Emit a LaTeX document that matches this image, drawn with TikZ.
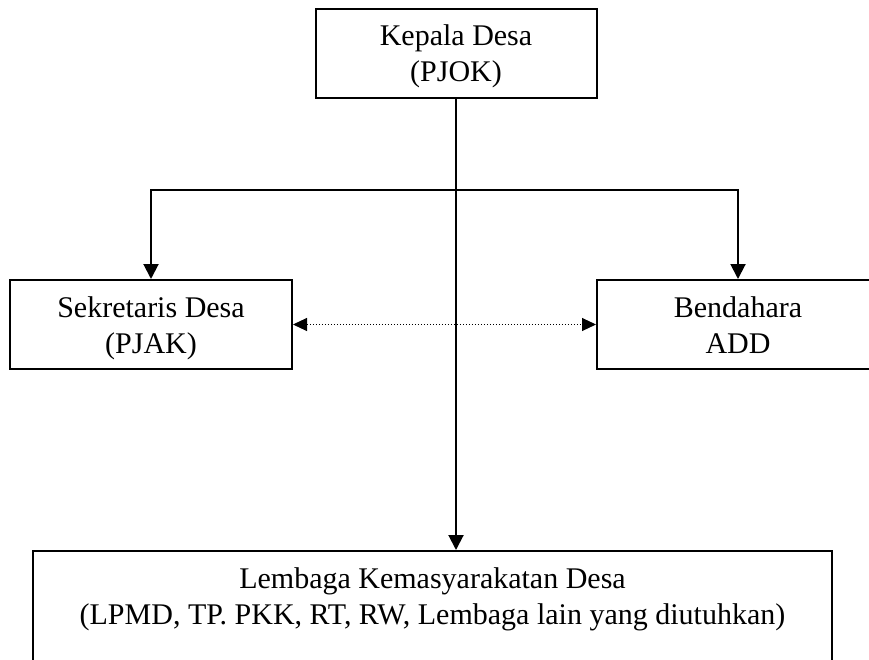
\documentclass[tikz,border=0pt]{standalone}
\usepackage{fontspec}
\setmainfont{Liberation Serif}
\usetikzlibrary{positioning,arrows.meta}
% struts: room above the first line and below the last one
\newcommand{\atas}{\rule{0pt}{37pt}}
\newcommand{\bawah}[1][16pt]{\rule[-#1]{0pt}{#1}}

\begin{document}
\begin{tikzpicture}[x=1pt,y=-1pt,
  box/.style={draw,line width=2pt,align=center,font=\fontsize{30}{36}\selectfont,inner ysep=0pt,anchor=north},
  line/.style={line width=2pt},
  arr/.style={line,-{Triangle[length=15pt,width=15pt]}}]
\clip (0,0) rectangle (869,660);
\node (kepala) [box,minimum width=281pt] at (456,8) {\atas Kepala Desa\\(PJOK)\bawah};
\node (sekretaris) [box,minimum width=282pt] at (151,279) {\atas Sekretaris Desa\\(PJAK)\bawah};
\node (bendahara) [box,minimum width=282pt] at (738,279) {\atas Bendahara\\ADD\bawah};
\node (lembaga) [box,minimum width=799pt] at (432.5,550)
  {\atas Lembaga Kemasyarakatan Desa\\(LPMD, TP. PKK, RT, RW, Lembaga lain yang diutuhkan)\bawah[60pt]};

\coordinate[below=91pt of kepala.south] (cabang);

\draw[arr] (kepala.south) -- (kepala.south |- lembaga.north);
\draw[arr] (cabang) -| (sekretaris.north);
\draw[arr] (cabang) -| (bendahara.north);
\draw[line width=1pt,dotted,{Triangle[length=14pt,width=13pt]}-{Triangle[length=14pt,width=13pt]}] (sekretaris.east) -- (bendahara.west);
\end{tikzpicture}
\end{document}
